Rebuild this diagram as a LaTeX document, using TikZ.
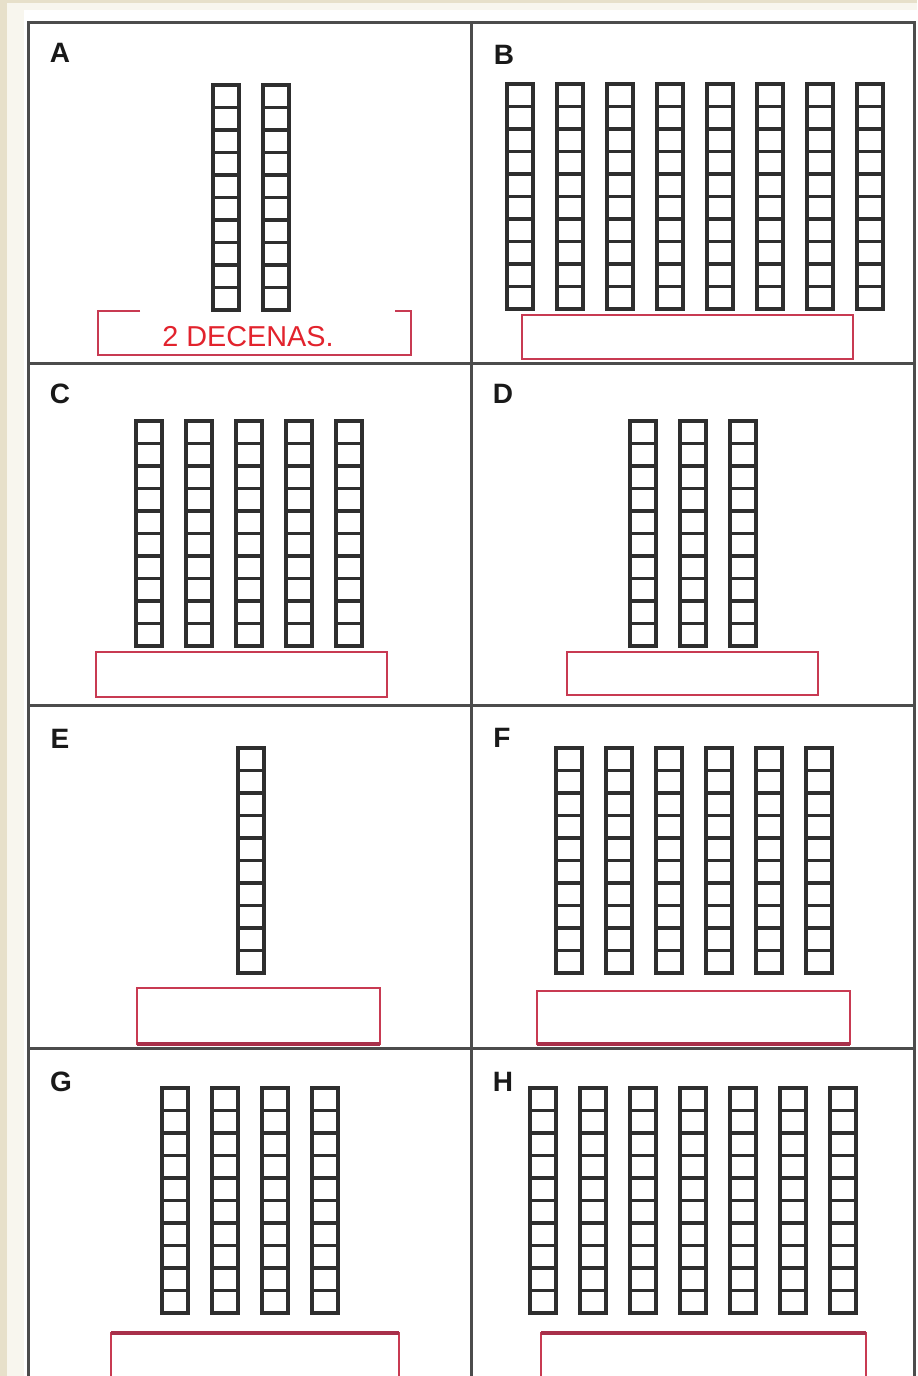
\documentclass[tikz,border=0pt]{standalone}
\usepackage{fontspec}
\setmainfont{Liberation Sans}
\usepackage{tikz}
\usetikzlibrary{positioning}
\usepackage{xcolor}
\definecolor{paperbeige}{HTML}{E7E0CA}
\definecolor{papercream}{HTML}{F8F6EE}
\definecolor{framegray}{HTML}{4C4C4C}
\definecolor{rodgray}{HTML}{2E2E2E}
\definecolor{boxred}{HTML}{C83A52}
\definecolor{boxdark}{HTML}{A8304A}
\definecolor{inkred}{HTML}{E2232D}

\tikzset{
  rodline/.style={draw=rodgray, line width=1.6pt},
  framerule/.style={framegray, line width=1.5pt},
  answerbox/.style={boxred, line width=1pt},
  panellabel/.style={font=\fontsize{14}{14}\selectfont\bfseries, text=black!90, inner sep=0pt},
}
% one rod of ten unit cubes, left edge #1, top #2
\newcommand{\tenrod}[2]{%
  \foreach \k in {0,...,9}
    \draw[rodline] (#1,#2+\k*22.5) rectangle ++(26,22.5);}

\begin{document}
\begin{tikzpicture}[x=0.5pt, y=-0.5pt]
  \clip (0,0) rectangle (917,1376);
  % paper and frame
  \fill[paperbeige] (0,0) rectangle (917,1376);
  \fill[papercream] (7,3) rectangle (917,1376);
  \fill[white] (24,10) rectangle (917,1376);
  \draw[framerule] (28,1400) -- (28,22) -- (914,22) -- (914,1400);
  \draw[framerule] (471,22) -- (471,1400);
  \foreach \yy in {363,705,1048}
    \draw[framerule] (28,\yy) -- (914,\yy);
  % panel letters
  \node[panellabel] (labA) at (60,53) {A};
  \node[panellabel] (labB) at (504,55) {B};
  \node[panellabel] (labC) at (60,394) {C};
  \node[panellabel] (labD) at (503,394) {D};
  \node[panellabel] (labE) at (60,739) {E};
  \node[panellabel] (labF) at (502,738) {F};
  \node[panellabel] (labG) at (61,1082) {G};
  \node[panellabel] (labH) at (503,1082) {H};
  % rods of ten
  \foreach \xx in {213,263} {\tenrod{\xx}{85}}
  \foreach \i in {0,...,7} {\tenrod{507+\i*50}{84}}
  \foreach \i in {0,...,4} {\tenrod{136+\i*50}{421}}
  \foreach \i in {0,...,2} {\tenrod{630+\i*50}{421}}
  \tenrod{238}{748}
  \foreach \i in {0,...,5} {\tenrod{556+\i*50}{748}}
  \foreach \i in {0,...,3} {\tenrod{162+\i*50}{1088}}
  \foreach \i in {0,...,6} {\tenrod{530+\i*50}{1088}}
  % answer boxes
  \draw[answerbox] (140,311) -- (98,311) -- (98,355) -- (411,355) -- (411,311) -- (395,311);
  \node[text=inkred, font=\fontsize{14.4}{14.4}\selectfont, inner sep=0pt] (ansA) at (248,337) {2 DECENAS.};
  \draw[answerbox] (522,315) rectangle (853,359);
  \draw[answerbox] (96,652) rectangle (387,697);
  \draw[answerbox] (567,652) rectangle (818,695);
  \draw[answerbox] (137,988) rectangle (380,1044);
  \draw[answerbox, line width=1.6pt, draw=boxdark] (137,1044) -- (380,1044);
  \draw[answerbox] (537,991) rectangle (850,1044);
  \draw[answerbox, line width=1.6pt, draw=boxdark] (537,1044) -- (850,1044);
  \draw[answerbox] (111,1400) -- (111,1333) -- (399,1333) -- (399,1400);
  \draw[answerbox, line width=1.8pt, draw=boxdark] (111,1333) -- (399,1333);
  \draw[answerbox] (541,1400) -- (541,1333) -- (866,1333) -- (866,1400);
  \draw[answerbox, line width=1.8pt, draw=boxdark] (541,1333) -- (866,1333);
\end{tikzpicture}
\end{document}
